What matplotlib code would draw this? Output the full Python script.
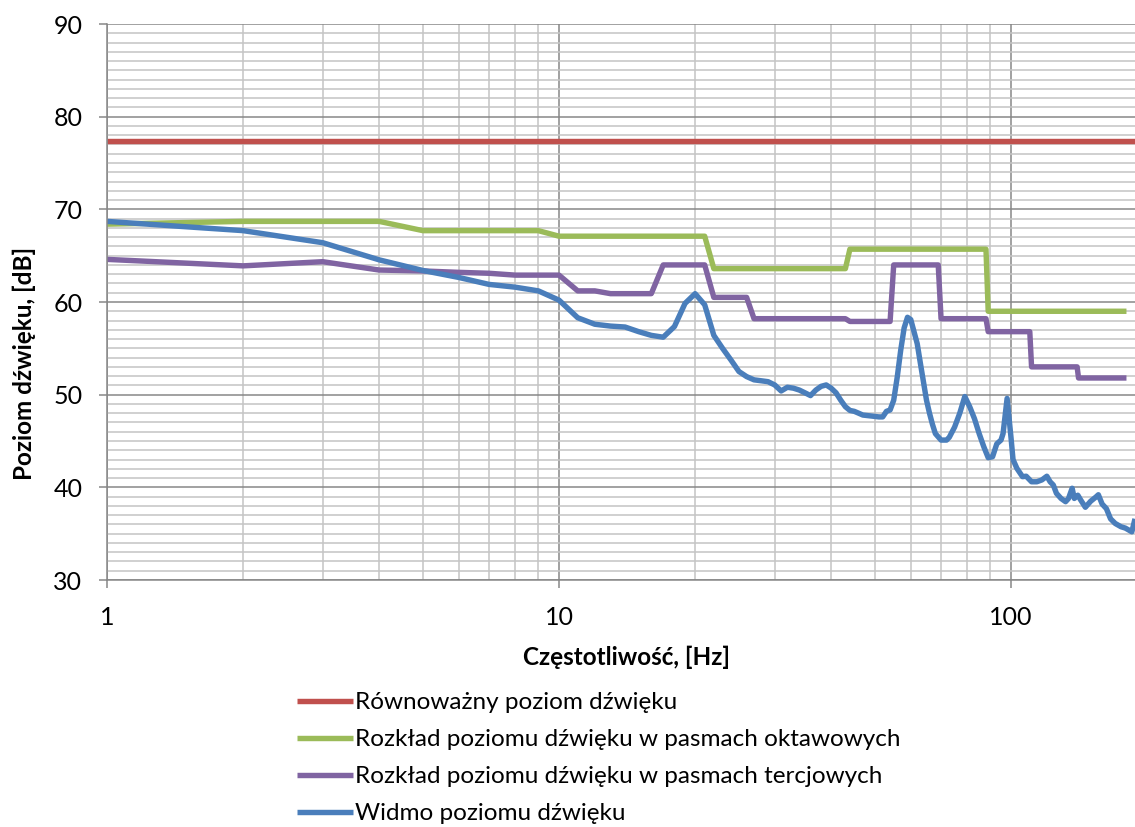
import matplotlib
matplotlib.use('Agg')
import matplotlib.pyplot as plt
from matplotlib.ticker import LogLocator, MultipleLocator, FixedLocator, NullFormatter, FixedFormatter

plt.rcParams['font.family'] = ['Lato', 'DejaVu Sans']

# ---- data ----
labels = ["Równoważny poziom dźwięku",
          "Rozkład poziomu dźwięku w pasmach oktawowych",
          "Rozkład poziomu dźwięku w pasmach tercjowych",
          "Widmo poziomu dźwięku"]

eq_f = [1, 188]
eq_db = [77.4, 77.4]

oct_f = [1, 2, 4, 5, 9, 10, 21, 22, 43, 44, 88, 89, 180]
oct_db = [68.4, 68.7, 68.7, 67.7, 67.7, 67.1, 67.1, 63.6, 63.6, 65.7, 65.7, 59.0, 59.0]

ter_f = [1, 2, 3, 4, 5, 6, 7, 8, 10, 11, 12, 13, 16, 17, 21, 22, 26, 27, 43, 44,
         54, 55, 69, 70, 88, 89, 110, 111, 140, 141, 180]
ter_db = [64.6, 63.9, 64.35, 63.45, 63.35, 63.2, 63.1, 62.9, 62.9, 61.2, 61.2, 60.9, 60.9, 64.0, 64.0,
          60.5, 60.5, 58.2, 58.2, 57.9, 57.9, 64.0, 64.0, 58.2, 58.2, 56.8, 56.8, 53.0, 53.0, 51.8, 51.8]

spec_f = [1, 2, 3, 4, 5, 6, 7, 8, 9, 10, 11, 12, 13, 14, 15, 16, 17, 18, 19, 20,
          21, 22, 23, 24, 25, 26, 27, 28, 29, 30, 31, 32, 33, 34, 35, 36, 37, 38, 39, 40,
          41, 42, 43, 44, 45, 46, 47, 49, 51, 52, 53, 54, 55, 56, 57, 58, 59, 60, 62, 63,
          65, 66, 67, 68, 70, 72, 73, 75, 77, 79, 81, 83, 85, 87, 89, 91, 93, 95, 96, 98,
          100, 101, 103, 106, 108, 111, 114, 117, 120, 122, 124, 126, 129, 132, 134, 136.5,
          138, 140.5, 142.5, 146, 150, 154, 156, 159, 162.5, 166, 170, 175, 179, 185, 188]
spec_db = [68.7, 67.7, 66.4, 64.55, 63.4, 62.65, 61.9, 61.6, 61.2, 60.2, 58.3, 57.6, 57.4, 57.3, 56.8,
           56.4, 56.2, 57.35, 59.85, 60.9, 59.7, 56.4, 55.0, 53.75, 52.5, 51.95, 51.6, 51.5, 51.4, 51.05,
           50.4, 50.8, 50.7, 50.5, 50.2, 49.9, 50.5, 50.9, 51.05, 50.7, 50.2, 49.4, 48.7, 48.3, 48.2,
           48.0, 47.8, 47.7, 47.6, 47.6, 48.2, 48.35, 49.4, 51.9, 54.8, 57.2, 58.35, 58.1, 55.5, 53.4,
           49.4, 48.0, 46.8, 45.8, 45.1, 45.1, 45.4, 46.5, 48.0, 49.8, 48.7, 47.4, 45.8, 44.4, 43.2,
           43.3, 44.7, 45.1, 45.8, 49.6, 45.3, 43.0, 42.05, 41.15, 41.2, 40.6, 40.6, 40.8, 41.2, 40.6,
           40.25, 39.35, 38.8, 38.45, 38.8, 39.9, 38.8, 39.15, 38.65, 37.85, 38.5, 38.95, 39.2, 38.2,
           37.7, 36.6, 36.1, 35.75, 35.6, 35.2, 36.6]

x_ticks = [1, 10, 100]
x_ticklabels = ["1", "10", "100"]
y_ticks = [30, 40, 50, 60, 70, 80, 90]

colors = ["#C0504D", "#9BBB59", "#8064A2", "#4A7EBB"]

# ---- figure ----
W, H = 1135, 827
fig = plt.figure(figsize=(W / 100, H / 100), dpi=100)
ax = fig.add_axes([107 / W, 1 - 580 / H, (W - 107) / W, (580 - 24) / H])

lw = 3.9
series = [(eq_f, eq_db), (oct_f, oct_db), (ter_f, ter_db), (spec_f, spec_db)]
for (f, d), c, lab in zip(series, colors, labels):
    ax.plot(f, d, color=c, lw=lw, label=lab, solid_joinstyle='round', solid_capstyle='butt')

ax.set_xscale('log')
ax.set_xlim(1, 188)
ax.set_ylim(30, 90)

ax.xaxis.set_major_locator(FixedLocator(x_ticks))
ax.xaxis.set_major_formatter(FixedFormatter(x_ticklabels))
ax.xaxis.set_minor_locator(LogLocator(base=10, subs=[2, 3, 4, 5, 6, 7, 8, 9], numticks=20))
ax.xaxis.set_minor_formatter(NullFormatter())
ax.yaxis.set_major_locator(FixedLocator(y_ticks))
ax.yaxis.set_minor_locator(MultipleLocator(1))

ax.grid(which='major', color='#878787', lw=1.1, zorder=0)
ax.grid(which='minor', color='#C4C4C4', lw=1.1, zorder=0)
ax.set_axisbelow(True)

for s in ['top', 'right']:
    ax.spines[s].set_visible(False)
for s in ['left', 'bottom']:
    ax.spines[s].set_color('#878787')
    ax.spines[s].set_linewidth(1.1)

ax.tick_params(which='major', length=5.8, width=1.1, color='#878787', labelsize=18)
ax.tick_params(which='minor', length=0)
ax.tick_params(axis='x', which='major', pad=13)
ax.tick_params(axis='y', which='major', pad=12)

ax.set_xlabel("Częstotliwość, [Hz]", fontsize=17.5, fontweight='bold', labelpad=12, x=0.505)
ax.set_ylabel("Poziom dźwięku, [dB]", fontsize=17.5, fontweight='bold', labelpad=12, y=0.39)

leg = ax.legend(loc='upper left', bbox_to_anchor=(297 / W, 1 - 692 / H), bbox_transform=fig.transFigure,
                frameon=False, fontsize=17.5, handlelength=2.3, handletextpad=0.1,
                labelspacing=0.66, borderaxespad=0, borderpad=0)

fig.savefig('out.png', dpi=100)
